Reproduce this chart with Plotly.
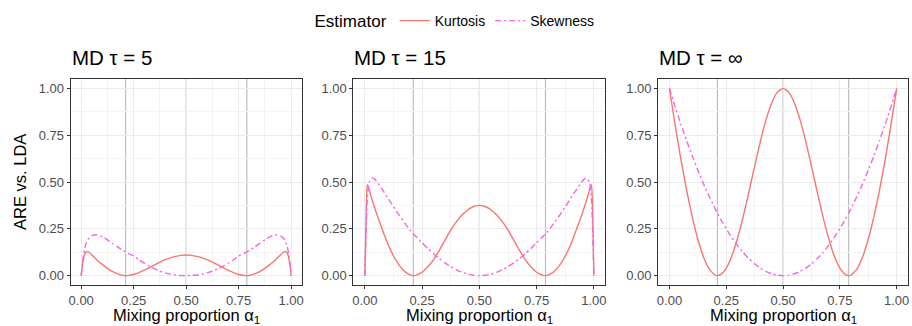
import plotly.graph_objects as go

# ---------------- data ----------------
ALPHA = [0, 0.005, 0.01, 0.015, 0.02, 0.03, 0.04, 0.05, 0.075, 0.1, 0.125, 0.15, 0.175,
         0.2, 0.211, 0.225, 0.25, 0.275, 0.3, 0.325, 0.35, 0.375, 0.4, 0.425, 0.45, 0.475, 0.5,
         0.525, 0.55, 0.575, 0.6, 0.625, 0.65, 0.675, 0.7, 0.725, 0.75, 0.775, 0.789, 0.8,
         0.825, 0.85, 0.875, 0.9, 0.925, 0.95, 0.96, 0.97, 0.98, 0.985, 0.99, 0.995, 1]

PANEL_TITLES = ["MD \u03c4 = 5", "MD \u03c4 = 15", "MD \u03c4 = \u221e"]
SERIES_NAMES = ["Kurtosis", "Skewness"]

KURT_TAU5 = [0, 0.05, 0.085, 0.11, 0.122, 0.128, 0.122, 0.112, 0.084, 0.060, 0.039, 0.021, 0.009,
             0.001, 0.0, 0.001, 0.006, 0.016, 0.029, 0.043, 0.058, 0.072, 0.085, 0.095, 0.103, 0.108, 0.110,
             0.108, 0.103, 0.095, 0.085, 0.072, 0.058, 0.043, 0.029, 0.016, 0.006, 0.001, 0.0, 0.001,
             0.009, 0.021, 0.039, 0.060, 0.084, 0.112, 0.122, 0.128, 0.122, 0.11, 0.085, 0.05, 0]
SKEW_TAU5 = [0, 0.06, 0.10, 0.135, 0.16, 0.19, 0.203, 0.212, 0.218, 0.208, 0.191, 0.171, 0.152,
             0.134, 0.127, 0.118, 0.105, 0.085, 0.067, 0.05, 0.036, 0.024, 0.015, 0.008, 0.0035, 0.001, 0,
             0.001, 0.0035, 0.008, 0.015, 0.024, 0.036, 0.05, 0.067, 0.085, 0.105, 0.118, 0.127, 0.134,
             0.152, 0.171, 0.191, 0.208, 0.218, 0.212, 0.203, 0.19, 0.16, 0.135, 0.10, 0.06, 0]

KURT_TAU15 = [0, 0.30, 0.485, 0.475, 0.455, 0.41, 0.372, 0.335, 0.25, 0.169, 0.105, 0.055, 0.021,
              0.003, 0.0, 0.003, 0.018, 0.047, 0.086, 0.135, 0.19, 0.243, 0.288, 0.325, 0.352, 0.369, 0.375,
              0.369, 0.352, 0.325, 0.288, 0.243, 0.19, 0.135, 0.086, 0.047, 0.018, 0.003, 0.0, 0.003,
              0.021, 0.055, 0.105, 0.169, 0.25, 0.335, 0.372, 0.41, 0.455, 0.475, 0.485, 0.30, 0]
SKEW_TAU15 = [0, 0.22, 0.40, 0.47, 0.50, 0.52, 0.518, 0.505, 0.462, 0.415, 0.368, 0.322, 0.279,
              0.238, 0.224, 0.206, 0.175, 0.145, 0.117, 0.091, 0.068, 0.048, 0.031, 0.017, 0.0075, 0.002, 0,
              0.002, 0.0075, 0.017, 0.031, 0.048, 0.068, 0.091, 0.117, 0.145, 0.175, 0.206, 0.224, 0.238,
              0.279, 0.322, 0.368, 0.415, 0.462, 0.505, 0.518, 0.52, 0.50, 0.47, 0.40, 0.22, 0]

KURT_TAUINF = [1, 0.960, 0.921, 0.882, 0.844, 0.768, 0.695, 0.624, 0.459, 0.315, 0.194, 0.0995, 0.035,
               0.0035, 0.0, 0.005, 0.04, 0.1065, 0.201, 0.3175, 0.4485, 0.585, 0.716, 0.832, 0.922, 0.980, 1.0,
               0.980, 0.922, 0.832, 0.716, 0.585, 0.4485, 0.3175, 0.201, 0.1065, 0.04, 0.005, 0.0, 0.0035,
               0.035, 0.0995, 0.194, 0.315, 0.459, 0.624, 0.695, 0.768, 0.844, 0.882, 0.921, 0.960, 1]
SKEW_TAUINF = [1, 0.9801, 0.9604, 0.9409, 0.9216, 0.8836, 0.8464, 0.81, 0.7225, 0.64, 0.5625, 0.49, 0.4225,
               0.36, 0.334, 0.3025, 0.25, 0.2025, 0.16, 0.1225, 0.09, 0.0625, 0.04, 0.0225, 0.01, 0.0025, 0,
               0.0025, 0.01, 0.0225, 0.04, 0.0625, 0.09, 0.1225, 0.16, 0.2025, 0.25, 0.3025, 0.334, 0.36,
               0.4225, 0.49, 0.5625, 0.64, 0.7225, 0.81, 0.8464, 0.8836, 0.9216, 0.9409, 0.9604, 0.9801, 1]

VLINES = [0.2113, 0.5, 0.7887]
TICK_VALS = [0, 0.25, 0.5, 0.75, 1]
TICK_TEXT = ["0.00", "0.25", "0.50", "0.75", "1.00"]
MINOR_VALS = [0.125, 0.375, 0.625, 0.875]

PANEL_DATA = [(KURT_TAU5, SKEW_TAU5), (KURT_TAU15, SKEW_TAU15), (KURT_TAUINF, SKEW_TAUINF)]

# ---------------- styling ----------------
W, H = 912, 326
FONT = "Liberation Sans, Arial, sans-serif"
COLORS = {"Kurtosis": "#F8766D", "Skewness": "#F564E3"}
DASHES = {"Kurtosis": "solid", "Skewness": "6px,3px,2px,3px"}
PANEL_PX = [(69, 301), (353, 606), (659, 910)]
TOP_PX, BOT_PX = 79, 285

fig = go.Figure()
for i, (kurt, skew) in enumerate(PANEL_DATA):
    n = "" if i == 0 else str(i + 1)
    for name, vals in zip(SERIES_NAMES, (kurt, skew)):
        fig.add_trace(go.Scatter(
            x=ALPHA, y=vals, mode="lines", name=name, legendgroup=name,
            showlegend=(i == 0),
            line=dict(color=COLORS[name], width=1.4, dash=DASHES[name], shape="spline", smoothing=0.5),
            xaxis="x" + n, yaxis="y" + n, hoverinfo="x+y+name",
        ))

axis_common = dict(
    range=[-0.05, 1.05], tickvals=TICK_VALS, ticktext=TICK_TEXT,
    ticks="outside", ticklen=3, tickwidth=1, tickcolor="#333333",
    showline=True, linecolor="#333333", linewidth=1, mirror=True,
    showgrid=True, gridcolor="#EBEBEB", gridwidth=1, zeroline=False,
    minor=dict(tickvals=MINOR_VALS, showgrid=True, gridcolor="#F4F4F4", gridwidth=0.6),
    tickfont=dict(family=FONT, size=13, color="#4D4D4D"),
)

layout = dict(
    width=W, height=H, margin=dict(l=0, r=0, t=0, b=0),
    paper_bgcolor="white", plot_bgcolor="white",
    font=dict(family=FONT, color="black"),
    showlegend=True,
    legend=dict(orientation="h", x=0.5, xanchor="center", y=1 - 5 / H, yanchor="top",
                title=dict(text="Estimator", font=dict(family=FONT, size=17), side="left"),
                font=dict(family=FONT, size=14), bgcolor="rgba(0,0,0,0)",
                itemwidth=30, tracegroupgap=0),
)
y_dom = [(H - BOT_PX) / H, (H - TOP_PX) / H]
annotations = []
shapes = []
for i, (x0, x1) in enumerate(PANEL_PX):
    n = "" if i == 0 else str(i + 1)
    layout["xaxis" + n] = dict(axis_common, domain=[x0 / W, x1 / W], anchor="y" + n)
    layout["yaxis" + n] = dict(axis_common, domain=y_dom, anchor="x" + n)
    annotations.append(dict(text=PANEL_TITLES[i], x=(x0 - 1) / W, y=(H - 57) / H, xref="paper", yref="paper",
                            xanchor="left", yanchor="middle", showarrow=False,
                            font=dict(family=FONT, size=20.5, color="black")))
    annotations.append(dict(text="Mixing proportion \u03b1<sub>1</sub>", x=(x0 + x1) / 2 / W, y=(H - 316) / H,
                            xref="paper", yref="paper", xanchor="center", yanchor="middle", showarrow=False,
                            font=dict(family=FONT, size=16.5, color="black")))
    for v in VLINES:
        shapes.append(dict(type="line", xref="x" + n, yref="paper", x0=v, x1=v,
                           y0=y_dom[0], y1=y_dom[1],
                           line=dict(color="#BEBEBE", width=1.2), layer="below"))

annotations.append(dict(text="ARE vs. LDA", x=18 / W, y=(H - (TOP_PX + BOT_PX) / 2) / H, xref="paper",
                        yref="paper", xanchor="center", yanchor="middle", textangle=-90, showarrow=False,
                        font=dict(family=FONT, size=16.5, color="black")))
layout["annotations"] = annotations
layout["shapes"] = shapes
fig.update_layout(**layout)
fig.write_html("out.html", config={"displayModeBar": False},
               post_script="document.body.style.margin='0px';document.body.style.padding='0px';")
